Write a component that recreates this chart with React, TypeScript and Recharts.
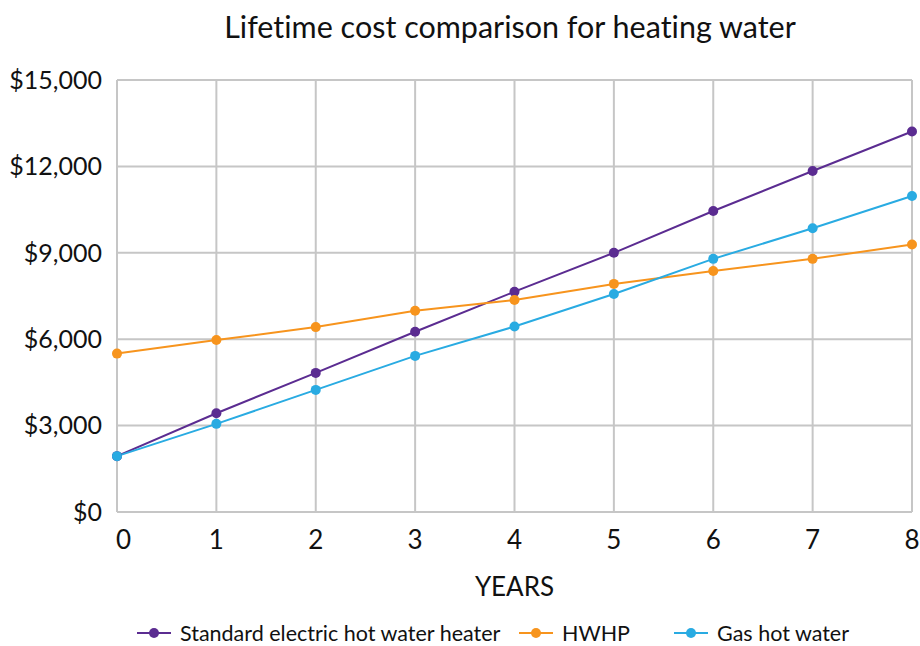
import { LineChart, Line, XAxis, YAxis, CartesianGrid } from 'recharts';

const years = [0, 1, 2, 3, 4, 5, 6, 7, 8];
const electric = [1940, 3430, 4830, 6260, 7650, 9000, 10450, 11840, 13210];
const hwhp = [5500, 5970, 6420, 6990, 7360, 7920, 8370, 8790, 9290];
const gas = [1940, 3060, 4240, 5420, 6440, 7570, 8790, 9850, 10970];
const yTicks = [0, 3000, 6000, 9000, 12000, 15000];

const PURPLE = '#5b2c91';
const ORANGE = '#f7941d';
const BLUE = '#29abe2';
const GRID = '#c6c6c6';
const FONT = 'Lato, sans-serif';

const data = years.map((y, i) => ({
  year: y,
  electric: electric[i],
  hwhp: hwhp[i],
  gas: gas[i],
}));

const legendItems = [
  { name: 'Standard electric hot water heater', color: PURPLE, left: 137 },
  { name: 'HWHP', color: ORANGE, left: 519 },
  { name: 'Gas hot water', color: BLUE, left: 674 },
];

const fmt = (v: number) => '$' + v.toLocaleString('en-US');

// first year label sits just inside the plot edge
const YearTick = ({ x, y, payload }: any) => (
  <text
    x={payload.value === 0 ? x - 1 : x}
    y={y}
    dy="0.72em"
    textAnchor={payload.value === 0 ? 'start' : 'middle'}
    fill="#111"
    fontSize={26}
    fontFamily={FONT}
  >
    {payload.value}
  </text>
);

export default function App() {
  return (
    <div
      style={{
        position: 'absolute',
        left: 0,
        top: 0,
        width: 920,
        height: 646,
        background: '#fff',
        fontFamily: FONT,
        fontVariantLigatures: 'none',
      }}
    >
      <div
        style={{
          position: 'absolute',
          top: 8,
          left: 100,
          width: 820,
          textAlign: 'center',
          fontSize: 30.5,
          color: '#111',
        }}
      >
        Lifetime cost comparison for heating water
      </div>
      <LineChart
        width={920}
        height={646}
        data={data}
        margin={{ top: 80, right: 8, bottom: 0, left: 0 }}
      >
        <CartesianGrid stroke={GRID} strokeWidth={2} />
        <XAxis
          dataKey="year"
          type="number"
          domain={[0, 8]}
          ticks={years}
          axisLine={{ stroke: GRID, strokeWidth: 2 }}
          tickLine={false}
          tick={<YearTick />}
          tickMargin={12}
          height={134}
          label={{ value: 'YEARS', position: 'insideTop', offset: 66, fill: '#111', fontSize: 26, fontFamily: FONT }}
        />
        <YAxis
          domain={[0, 15000]}
          ticks={yTicks}
          width={117}
          axisLine={{ stroke: GRID, strokeWidth: 2 }}
          tickLine={false}
          tickFormatter={fmt}
          tick={{ fill: '#111', fontSize: 25, fontFamily: FONT }}
          tickMargin={9}
        />
        <Line dataKey="electric" stroke={PURPLE} strokeWidth={2} dot={{ r: 5, fill: PURPLE, stroke: PURPLE, strokeWidth: 0 }} isAnimationActive={false} />
        <Line dataKey="hwhp" stroke={ORANGE} strokeWidth={2} dot={{ r: 5, fill: ORANGE, stroke: ORANGE, strokeWidth: 0 }} isAnimationActive={false} />
        <Line dataKey="gas" stroke={BLUE} strokeWidth={2} dot={{ r: 5, fill: BLUE, stroke: BLUE, strokeWidth: 0 }} isAnimationActive={false} />
      </LineChart>
      {/* legend */}
      {legendItems.map((it) => (
        <div
          key={it.name}
          style={{ position: 'absolute', top: 620, left: it.left, display: 'flex', alignItems: 'center', fontSize: 21.5, color: '#111' }}
        >
          <svg width={34} height={14} style={{ marginRight: 9 }}>
            <line x1={0} y1={7} x2={34} y2={7} stroke={it.color} strokeWidth={2} />
            <circle cx={17} cy={7} r={5} fill={it.color} />
          </svg>
          <span>{it.name}</span>
        </div>
      ))}
    </div>
  );
}
